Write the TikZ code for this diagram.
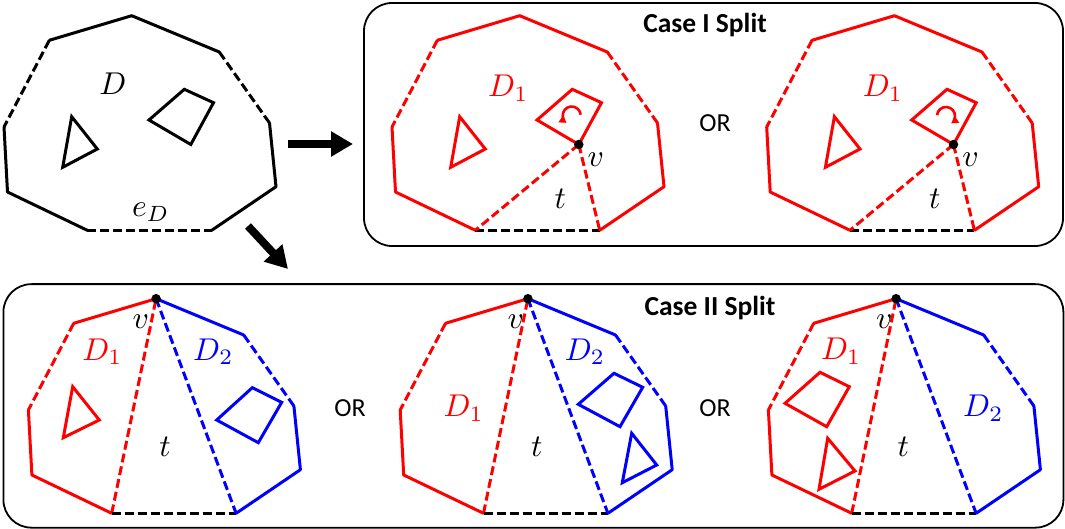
\documentclass[tikz,border=0pt]{standalone}
\usepackage{fontspec}
\newfontfamily\calib{Carlito}
\usetikzlibrary{arrows.meta}
\definecolor{rd}{RGB}{255,0,0}
\definecolor{bl}{RGB}{0,0,255}
\newcommand{\mtxt}[1]{\scalebox{3.15}{$#1$}}
\newcommand{\mkpoly}[1]{%
 \coordinate (#1T) at (131.7,15.7);
 \coordinate (#1UL) at (49.3,40.3);
 \coordinate (#1LU) at (4,127);
 \coordinate (#1LL) at (7.5,192);
 \coordinate (#1BL) at (87.3,230.3);
 \coordinate (#1BR) at (211.7,230.3);
 \coordinate (#1RL) at (276,186.7);
 \coordinate (#1RU) at (269.5,123);
 \coordinate (#1UR) at (219.3,52);
 \coordinate (#1Q1) at (184.3,89.3);
 \coordinate (#1Q2) at (213.5,102.7);
 \coordinate (#1Q3) at (190.8,144.5);
 \coordinate (#1Q4) at (149,120);
 \coordinate (#1R1) at (71.7,116.7);
 \coordinate (#1R2) at (97.3,149);
 \coordinate (#1R3) at (62.7,167.3);
}
\newcommand{\caseone}[1]{%
 \draw[edge,rd] (#1T)--(#1UL);
 \draw[dedge,rd] (#1UL)--(#1LU);
 \draw[edge,rd] (#1LU)--(#1LL)--(#1BL);
 \draw[dedge] (#1BL)--(#1BR);
 \draw[edge,rd] (#1BR)--(#1RL)--(#1RU);
 \draw[dedge,rd] (#1RU)--(#1UR);
 \draw[edge,rd] (#1UR)--(#1T);
 \draw[shp,rd] (#1Q1)--(#1Q2)--(#1Q3)--(#1Q4)--cycle;
 \draw[shp,rd] (#1R1)--(#1R2)--(#1R3)--cycle;
 \draw[dedge,rd] (#1Q3)--(#1BL);
 \draw[dedge,rd] (#1Q3)--(#1BR);
 \node[vdot] (#1v) at (#1Q3) {};
}
\newcommand{\casetwo}[1]{%
 \draw[edge,rd] (#1T)--(#1UL);
 \draw[dedge,rd] (#1UL)--(#1LU);
 \draw[edge,rd] (#1LU)--(#1LL)--(#1BL);
 \draw[dedge,rd] (#1BL)--(#1T);
 \draw[dedge] (#1BL)--(#1BR);
 \draw[dedge,bl] (#1T)--(#1BR);
 \draw[edge,bl] (#1BR)--(#1RL)--(#1RU);
 \draw[dedge,bl] (#1RU)--(#1UR);
 \draw[edge,bl] (#1UR)--(#1T);
 \node[vdot] (#1v) at (#1T) {};
}
\tikzset{
 edge/.style={line width=3pt, line cap=round, line join=round},
 shp/.style={line width=3pt, line join=miter},
 dedge/.style={line width=3pt, dash pattern=on 9pt off 4pt},
 casebox/.style={draw, line width=1.8pt, rounded corners=28pt, inner sep=0pt},
 mlab/.style={inner sep=0pt, anchor=base},
 ttl/.style={inner sep=0pt, anchor=base, font=\calib\bfseries\fontsize{27.5}{30}\selectfont},
 ortxt/.style={inner sep=0pt, anchor=base, font=\calib\fontsize{26}{28}\selectfont},
 bigarrow/.style={line width=8pt, -{Triangle[length=22pt,width=24pt]}},
 rot/.style={line width=2.6pt, -{Triangle[length=7pt,width=8pt]}},
 vdot/.style={circle, fill=black, inner sep=0pt, minimum size=9.5pt},
}
\begin{document}
\begin{tikzpicture}[x=1pt,y=-1pt]
\useasboundingbox (0,0) rectangle (1065,529);
% boxes
\node[casebox, minimum width=699pt, minimum height=243pt] (boxI) at (713.5,124.5) {};
\node[casebox, minimum width=1060pt, minimum height=243.5pt] (boxII) at (533.4,405.9) {};
% vertex sets
\mkpoly{p}
\begin{scope}[shift={(388,0)}]\mkpoly{a}\end{scope}
\begin{scope}[shift={(762.7,0)}]\mkpoly{b}\end{scope}
\begin{scope}[shift={(24.4,283)}]\mkpoly{c}\end{scope}
\begin{scope}[shift={(396.2,283)}]\mkpoly{d}\end{scope}
\begin{scope}[shift={(764.4,283)}]\mkpoly{e}\end{scope}
% polygon D
\draw[edge] (pT)--(pUL);
\draw[dedge] (pUL)--(pLU);
\draw[edge] (pLU)--(pLL)--(pBL);
\draw[dedge] (pBL)--(pBR);
\draw[edge] (pBR)--(pRL)--(pRU);
\draw[dedge] (pRU)--(pUR);
\draw[edge] (pUR)--(pT);
\draw[shp] (pQ1)--(pQ2)--(pQ3)--(pQ4)--cycle;
\draw[shp] (pR1)--(pR2)--(pR3)--cycle;
\node[mlab] (lD) at (112.8,95) {\mtxt{D}};
\node[mlab] (leD) at (150.8,216.7) {\mtxt{e_D}};
% arrows
\coordinate (arA) at (288,144);
\coordinate (arB) at (353,144);
\coordinate (arC) at (248,226);
\coordinate (arD) at (288,269);
\draw[bigarrow] (arA) -- (arB);
\draw[bigarrow] (arC) -- (arD);
% Case I
\node[ttl] (tI) at (705,33) {Case I Split};
\caseone{a}
\caseone{b}
\coordinate (rc1) at (571.7,115.5);
\coordinate (rc2) at (946,116);
\draw[rot,rd] ([shift={(-5:9)}]rc1) arc[start angle=-5,end angle=-235,radius=9];
\draw[rot,rd] ([shift={(-175:9)}]rc2) arc[start angle=-175,end angle=55,radius=9];
\node[mlab,rd] (aD1) at (508.3,96.7) {\mtxt{D_1}};
\node[mlab,rd] (bD1) at (883,96.7) {\mtxt{D_1}};
\node[mlab] (avl) at (595.8,166.7) {\mtxt{v}};
\node[mlab] (bvl) at (970.5,166.7) {\mtxt{v}};
\node[mlab] (atl) at (560.2,208.3) {\mtxt{t}};
\node[mlab] (btl) at (934.9,208.3) {\mtxt{t}};
\node[ortxt] (orI) at (715,131.7) {OR};
% Case II
\node[ttl] (tII) at (710,315) {Case II Split};
\casetwo{c}
\casetwo{d}
\casetwo{e}
% panel c shapes
\draw[shp,rd] (72.7,386.7)--(99.3,420)--(63.3,437.7)--cycle;
\draw[shp,bl] (252.3,387.7)--(281.7,402.3)--(258.3,442.7)--(216.7,420)--cycle;
% panel d shapes
\draw[shp,bl] (614,373.3)--(642.7,387.3)--(620,426.7)--(578.3,404.3)--cycle;
\draw[shp,bl] (631.7,433.3)--(656.7,465)--(622.3,482.7)--cycle;
% panel e shapes
\draw[shp,rd] (820,372.3)--(849.3,386.7)--(826.7,426.7)--(785,403.3)--cycle;
\draw[shp,rd] (827.7,438.3)--(855,471)--(819,489.3)--cycle;
% labels
\node[mlab] (cvl) at (140.8,328.3) {\mtxt{v}};
\node[mlab,rd] (cD1) at (102.5,360) {\mtxt{D_1}};
\node[mlab,bl] (cD2) at (213.3,360) {\mtxt{D_2}};
\node[mlab] (ctl) at (165,456.7) {\mtxt{t}};
\node[mlab] (dvl) at (515.8,328.3) {\mtxt{v}};
\node[mlab,rd] (dD1) at (463.7,416.7) {\mtxt{D_1}};
\node[mlab,bl] (dD2) at (585,360) {\mtxt{D_2}};
\node[mlab] (dtl) at (536.7,456.7) {\mtxt{t}};
\node[mlab] (evl) at (884.2,328.3) {\mtxt{v}};
\node[mlab,rd] (eD1) at (841.2,359.3) {\mtxt{D_1}};
\node[mlab,bl] (eD2) at (983.3,416.7) {\mtxt{D_2}};
\node[mlab] (etl) at (903.3,456.7) {\mtxt{t}};
\node[ortxt] (orIIa) at (350,416) {OR};
\node[ortxt] (orIIb) at (715,416) {OR};
\end{tikzpicture}
\end{document}
